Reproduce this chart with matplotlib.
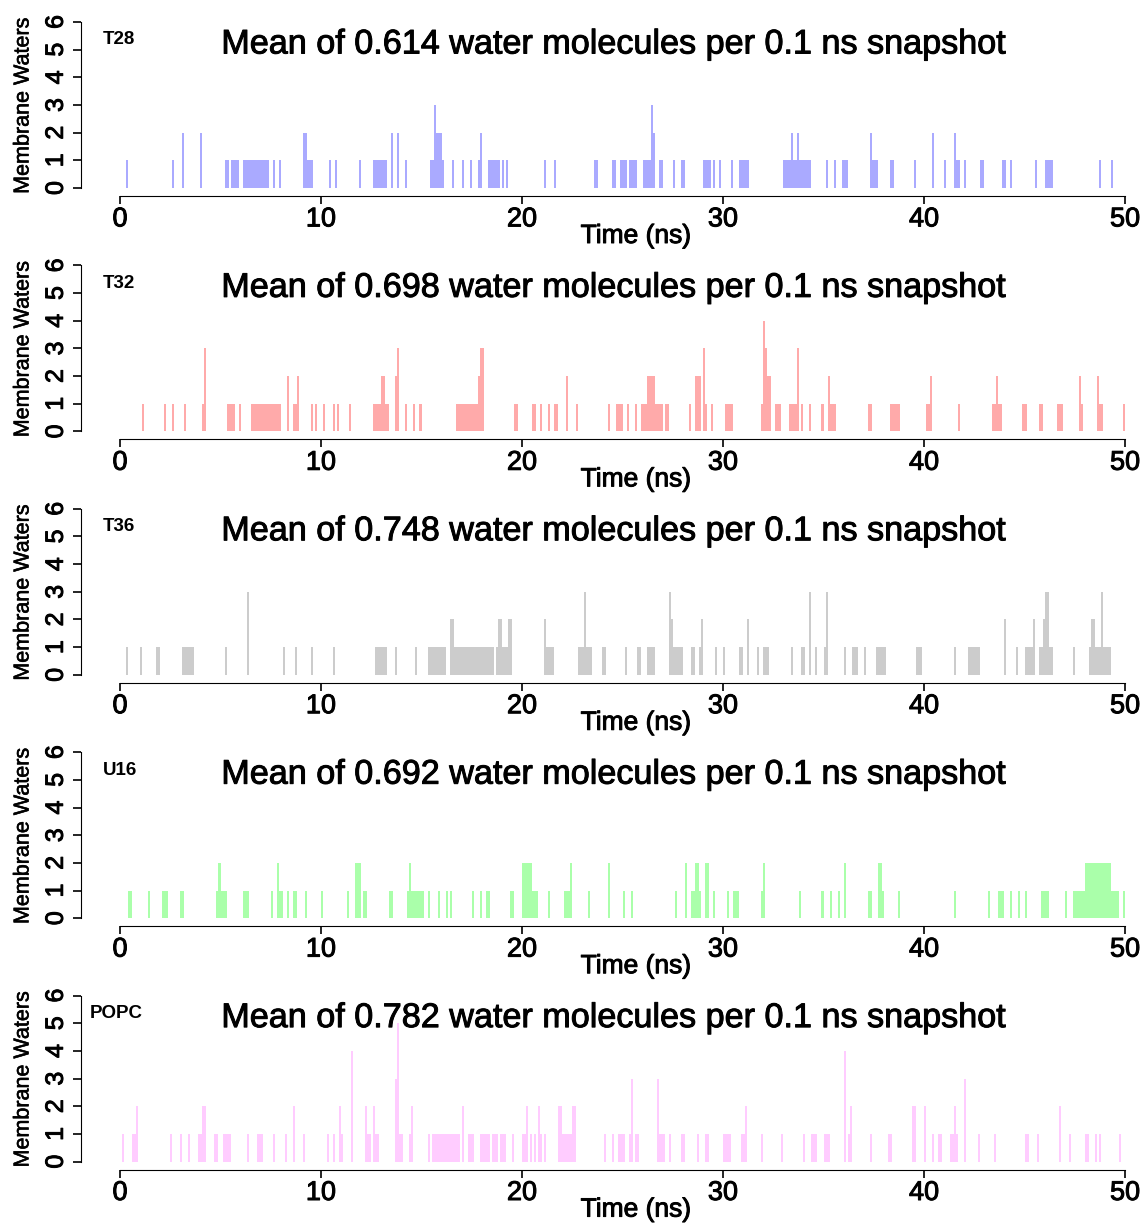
import numpy as np
import matplotlib
matplotlib.use("Agg")
import matplotlib.pyplot as plt
import matplotlib.patheffects as pe

plt.rcParams['font.family'] = ['Liberation Sans', 'DejaVu Sans']

# runs of snapshots: (start time in ns, number of 0.1 ns snapshots, water count)
t28_runs = [(0.3,1,1),(2.6,1,1),(3.1,1,2),(4.0,1,2),(5.2,2,1),(5.5,4,1),(6.1,13,1),(7.6,1,1),
            (7.9,1,1),(9.1,2,2),(9.3,3,1),(10.4,1,1),(10.7,1,1),(11.9,1,1),(12.6,7,1),(13.5,1,2),
            (13.8,1,2),(14.2,1,1),(15.4,2,1),(15.6,1,3),(15.7,3,2),(16.0,1,1),(16.5,1,1),(17.0,1,1),
            (17.4,1,1),(17.8,1,1),(17.9,1,2),(18.3,6,1),(19.0,1,1),(19.2,1,1),(21.1,1,1),(21.6,1,1),
            (23.6,2,1),(24.5,2,1),(24.9,3,1),(25.3,4,1),(26.0,4,1),(26.4,1,3),(26.5,1,2),(26.8,2,1),
            (27.5,1,1),(27.9,2,1),(29.0,4,1),(29.5,1,1),(29.8,1,1),(30.4,1,1),(30.8,5,1),(33.0,4,1),
            (33.4,1,2),(33.5,2,1),(33.7,1,2),(33.8,6,1),(35.1,1,1),(35.5,1,1),(35.9,3,1),(37.3,1,2),
            (37.4,3,1),(38.3,2,1),(39.5,1,1),(40.4,1,2),(41.0,1,1),(41.5,1,2),(41.6,2,1),(42.0,1,1),
            (42.8,2,1),(43.9,2,1),(44.3,1,1),(45.5,1,1),(46.0,4,1),(48.7,1,1),(49.3,1,1)]
t32_runs = [(1.1,1,1),(2.2,1,1),(2.6,1,1),(3.2,1,1),(4.1,1,1),(4.2,1,3),(5.3,4,1),(5.9,1,1),
            (6.5,15,1),(8.3,1,2),(8.6,2,1),(8.8,1,2),(9.5,1,1),(9.7,1,1),(10.1,1,1),(10.6,1,1),
            (10.8,1,1),(11.4,1,1),(12.6,4,1),(13.0,2,2),(13.2,2,1),(13.7,1,2),(13.8,1,3),(14.2,1,1),
            (14.6,1,1),(14.9,1,1),(16.7,11,1),(17.8,1,2),(17.9,2,3),(19.6,2,1),(20.5,2,1),(20.9,1,1),
            (21.3,1,1),(21.6,2,1),(22.2,1,2),(22.7,1,1),(24.3,1,1),(24.7,3,1),(25.2,1,1),(25.6,1,1),
            (25.9,3,1),(26.2,4,2),(26.6,4,1),(27.1,2,1),(28.3,1,1),(28.6,3,2),(29.0,1,3),(29.1,1,1),
            (29.4,1,1),(30.1,4,1),(31.9,1,1),(32.0,1,4),(32.1,1,3),(32.2,2,2),(32.6,3,1),(33.3,4,1),
            (33.7,1,3),(33.9,1,1),(34.3,1,1),(34.9,1,1),(35.2,1,2),(35.3,3,1),(37.2,2,1),(38.3,5,1),
            (40.1,2,1),(40.3,1,2),(41.7,1,1),(43.4,2,1),(43.6,1,2),(43.7,2,1),(44.9,2,1),(45.7,2,1),
            (46.6,3,1),(47.7,1,2),(47.8,1,1),(48.6,1,2),(48.7,2,1),(49.9,1,1)]
t36_runs = [(0.3,1,1),(1.0,1,1),(1.8,2,1),(3.1,6,1),(5.2,1,1),(6.3,1,3),(8.1,1,1),(8.7,1,1),
            (9.5,1,1),(10.6,1,1),(12.7,6,1),(13.7,1,1),(14.7,1,1),(15.3,9,1),(16.4,2,2),(16.6,20,1),
            (18.7,1,1),(18.8,2,2),(19.0,3,1),(19.3,2,2),(21.1,1,2),(21.2,4,1),(22.8,3,1),(23.1,1,3),
            (23.2,3,1),(24.0,2,1),(25.1,1,1),(25.7,2,1),(26.2,4,1),(27.3,1,3),(27.4,1,2),(27.5,5,1),
            (28.4,2,1),(28.8,1,1),(28.9,1,2),(29.6,1,1),(30.0,1,1),(30.8,2,1),(31.2,1,2),(31.7,1,1),
            (32.0,3,1),(33.4,1,1),(33.9,2,1),(34.3,1,3),(34.6,1,1),(35.0,1,1),(35.1,1,3),(36.0,1,1),
            (36.4,3,1),(37.0,1,1),(37.6,5,1),(39.6,3,1),(41.5,1,1),(42.2,6,1),(44.0,1,2),(44.6,1,1),
            (45.0,4,1),(45.4,1,2),(45.7,2,1),(45.9,1,2),(46.0,2,3),(46.2,2,1),(47.4,1,1),(48.2,1,1),
            (48.3,2,2),(48.5,3,1),(48.8,1,3),(48.9,4,1)]
u16_runs = [(0.4,2,1),(1.4,1,1),(2.1,3,1),(3.0,2,1),(4.8,1,1),(4.9,1,2),(5.0,3,1),(6.1,3,1),
            (7.5,1,1),(7.8,1,2),(7.9,2,1),(8.3,1,1),(8.6,2,1),(9.2,1,1),(10.0,1,1),(11.3,1,1),
            (11.7,3,2),(12.1,2,1),(13.4,2,1),(14.3,1,1),(14.4,1,2),(14.5,6,1),(15.3,1,1),(15.8,1,1),
            (16.2,1,1),(16.4,1,1),(17.5,1,1),(17.9,1,1),(18.2,2,1),(19.4,2,1),(20.0,5,2),(20.5,3,1),
            (21.3,1,1),(22.1,3,1),(22.4,1,2),(23.3,1,1),(24.3,1,2),(25.0,1,1),(25.4,1,1),(27.6,1,1),
            (28.1,1,2),(28.4,2,1),(28.6,2,2),(28.8,1,1),(29.1,2,2),(29.5,1,1),(30.2,1,1),(30.5,3,1),
            (31.9,1,1),(32.0,1,2),(33.8,1,1),(34.9,1,1),(35.3,1,1),(35.7,1,1),(36.0,1,2),(37.2,2,1),
            (37.7,2,2),(37.9,1,1),(38.7,1,1),(41.5,1,1),(43.2,1,1),(43.7,3,1),(44.3,1,1),(44.7,1,1),
            (45.0,1,1),(45.8,4,1),(47.0,1,1),(47.4,6,1),(48.0,13,2),(49.3,4,1),(49.9,1,1)]
popc_runs = [(0.1,1,1),(0.6,2,1),(0.8,1,2),(2.5,1,1),(3.0,1,1),(3.4,1,1),(3.9,2,1),(4.1,2,2),
             (4.7,2,1),(5.1,4,1),(6.3,1,1),(6.8,3,1),(7.6,1,1),(8.2,1,1),(8.6,1,2),(9.1,1,1),
             (10.3,1,1),(10.6,1,1),(10.9,1,2),(11.0,1,1),(11.5,1,4),(12.2,1,2),(12.3,2,1),(12.6,1,2),
             (12.7,2,1),(13.7,1,3),(13.8,1,5),(13.9,2,1),(14.4,1,1),(14.5,1,2),(15.3,1,1),(15.5,14,1),
             (17.0,1,2),(17.3,3,1),(17.9,5,1),(18.5,3,1),(18.9,3,1),(19.5,1,1),(20.0,2,1),(20.2,1,2),
             (20.4,1,1),(20.6,1,1),(20.8,1,2),(20.9,1,1),(21.1,1,1),(21.8,2,2),(22.0,5,1),(22.5,2,2),
             (24.1,1,1),(24.5,1,1),(24.8,3,1),(25.3,1,1),(25.4,1,3),(25.6,2,1),(26.7,1,3),(26.8,3,1),
             (27.3,1,1),(27.9,2,1),(28.7,1,1),(29.1,2,1),(30.0,4,1),(30.9,2,1),(31.1,1,2),(31.9,1,1),
             (32.9,1,1),(34.0,1,1),(34.4,3,1),(35.0,3,1),(36.0,1,4),(36.2,1,1),(36.3,1,2),(37.3,1,1),
             (38.2,2,1),(39.4,2,2),(40.0,1,2),(40.4,1,1),(40.7,2,1),(41.3,2,1),(41.5,1,2),(41.6,1,1),
             (42.0,1,3),(42.7,1,1),(43.5,1,1),(45.0,2,1),(45.6,1,1),(46.7,1,2),(47.2,1,1),(48.0,2,1),
             (48.5,1,1),(48.7,1,1),(49.7,1,1)]

names = ["T28", "T32", "T36", "U16", "POPC"]
means = ["0.614", "0.698", "0.748", "0.692", "0.782"]
colors = ["#aaaaff", "#ffaaaa", "#cccccc", "#aaffaa", "#ffccff"]
all_runs = [t28_runs, t32_runs, t36_runs, u16_runs, popc_runs]

W, H = 1146, 1226
fig = plt.figure(figsize=(W / 100, H / 100), dpi=100)
px2pt = 72 / 100
thick = [pe.withStroke(linewidth=0.7, foreground='black')]

times = np.arange(500) * 0.1
for i in range(5):
    counts = np.zeros(500)
    for start, n, h in all_runs[i]:
        k = int(round(start * 10))
        counts[k:k + n] = h
    y0 = 188 + 243.4 * i
    ax = fig.add_axes([120 / W, (H - y0) / H, 1005 / W, 166 / H])
    ax.bar(times, counts, width=0.1, align='edge', color=colors[i], linewidth=0)
    ax.set_xlim(0, 50)
    ax.set_ylim(0, 6)
    for s in ['top', 'right']:
        ax.spines[s].set_visible(False)
    ax.spines['left'].set_position(('outward', 39 * px2pt))
    ax.spines['bottom'].set_position(('outward', 8 * px2pt))
    ax.spines['left'].set_bounds(0, 6)
    ax.spines['bottom'].set_bounds(0, 50)
    ax.set_xticks([0, 10, 20, 30, 40, 50])
    ax.set_yticks(range(7))
    ax.tick_params(axis='both', direction='out', length=5.5, width=1.2)
    ax.tick_params(axis='x', pad=2, labelsize=19.5)
    ax.tick_params(axis='y', labelrotation=90, pad=4, labelsize=18)
    for lab in ax.get_yticklabels():
        lab.set_va('center')
        lab.set_path_effects(thick)
    for lab in ax.get_xticklabels():
        lab.set_path_effects(thick)
    ax.patch.set_alpha(0)

    fig.text(613 / W, 1 - (y0 - 143) / H, "Mean of %s water molecules per 0.1 ns snapshot" % means[i],
             ha='center', va='center', fontsize=24.6, path_effects=thick)
    fig.text((103 if i < 4 else 90) / W, 1 - (y0 - 148) / H, names[i],
             ha='left', va='center', fontsize=13.5, fontweight='bold')
    fig.text(23 / W, 1 - (y0 - 82) / H, "Membrane Waters", rotation=90,
             ha='center', va='center', fontsize=15.5, path_effects=[pe.withStroke(linewidth=0.4, foreground='black')])
    fig.text(636 / W, 1 - (y0 + 48) / H, "Time (ns)", ha='center', va='center', fontsize=19,
             path_effects=thick)

fig.savefig("out.png", dpi=100)
